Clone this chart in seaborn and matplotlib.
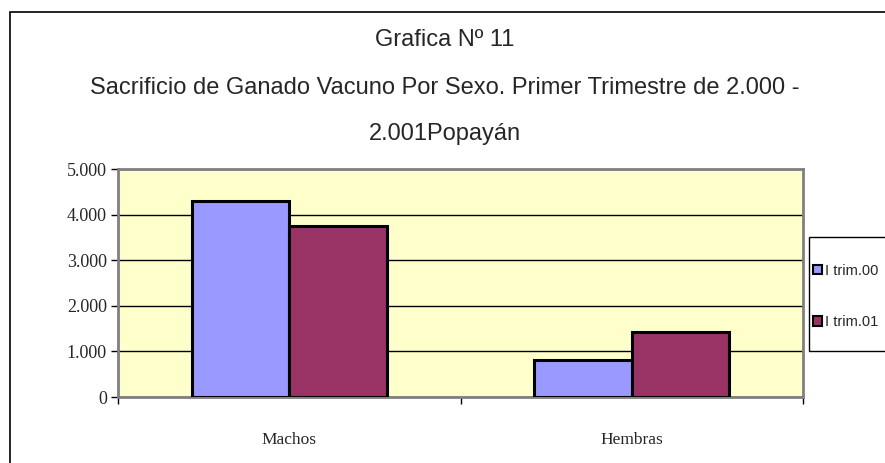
import matplotlib
matplotlib.use("Agg")
import matplotlib.pyplot as plt
import seaborn as sns
import pandas as pd
from matplotlib.patches import Rectangle
from matplotlib.ticker import FixedLocator, FuncFormatter

# data
categories = ["Machos", "Hembras"]
series_names = ["I trim.00", "I trim.01"]
trim00 = [4290, 810]
trim01 = [3750, 1430]
yticks = [0, 1000, 2000, 3000, 4000, 5000]
colors = ["#9999FF", "#993366"]

df = pd.DataFrame({
    "Sexo": categories * 2,
    "Serie": [series_names[0]] * 2 + [series_names[1]] * 2,
    "Cantidad": trim00 + trim01,
})

sns.set_style("white")
plt.rcParams["font.family"] = ["Liberation Sans Narrow", "Liberation Sans", "DejaVu Sans"]

fig = plt.figure(figsize=(8.85, 4.63), dpi=100)
ax = fig.add_axes([118 / 885, 1 - 397 / 463, 685 / 885, 228 / 463])
ax.set_facecolor("#FFFFCC")

sns.barplot(data=df, x="Sexo", y="Cantidad", hue="Serie", palette=colors,
            width=0.57, gap=0, edgecolor="black", linewidth=2.2,
            saturation=1, ax=ax, legend=True, zorder=3)

ax.set_ylim(0, 5000)
ax.set_xlim(-0.5, 1.5)
ax.yaxis.set_major_locator(FixedLocator(yticks))
ax.yaxis.set_major_formatter(FuncFormatter(lambda v, p: f"{int(v):,}".replace(",", ".")))
ax.grid(axis="y", color="black", linewidth=1, zorder=1)
ax.set_axisbelow(True)
ax.set_xlabel("")
ax.set_ylabel("")

for side in ["top", "right", "left", "bottom"]:
    ax.spines[side].set_visible(True)
    ax.spines[side].set_color("#808080")
    ax.spines[side].set_linewidth(2)

serif = ["Liberation Serif", "DejaVu Serif"]
ax.tick_params(axis="y", direction="out", length=5, width=1, color="black",
               labelsize=13, pad=3, left=True)
for lab in ax.get_yticklabels():
    lab.set_fontfamily(serif)
ax.xaxis.set_minor_locator(FixedLocator([-0.5, 0.5, 1.5]))
ax.tick_params(axis="x", which="major", length=0, labelsize=12.5, pad=25)
ax.tick_params(axis="x", which="minor", direction="out", length=5, width=1, color="black", bottom=True)
for lab in ax.get_xticklabels():
    lab.set_fontfamily(serif)

# legend box (runs off the right edge like the reference)
handles, labels = ax.get_legend_handles_labels()
ax.legend_.remove()
for h in handles:
    h.set_linewidth(1.5)
fig.patches.append(Rectangle((809 / 885, 1 - 351 / 463), 0.2, 114 / 463, transform=fig.transFigure,
                             fill=True, facecolor="white", edgecolor="black", linewidth=1))
leg = fig.legend(handles, labels, loc="upper left", bbox_to_anchor=(813 / 885, 1 - 264 / 463),
                 frameon=False, fontsize=10.5,
                 handlelength=0.6, handleheight=0.6, handletextpad=0.25,
                 labelspacing=2.55, borderpad=0, borderaxespad=0)

# title
fig.text(445 / 885, 1 - 40 / 463, "Grafica Nº 11", ha="center", va="center", fontsize=17)
fig.text(445 / 885, 1 - 88 / 463, "Sacrificio de Ganado Vacuno Por Sexo. Primer Trimestre de 2.000 -",
         ha="center", va="center", fontsize=17)
fig.text(445 / 885, 1 - 134 / 463, "2.001Popayán", ha="center", va="center", fontsize=17)

# outer chart border
fig.patches.append(Rectangle((10 / 885, -0.1), 1.2, 1.1 - 12 / 463, transform=fig.transFigure,
                             fill=False, edgecolor="black", linewidth=1.2))

fig.savefig("out.png", dpi=100)
